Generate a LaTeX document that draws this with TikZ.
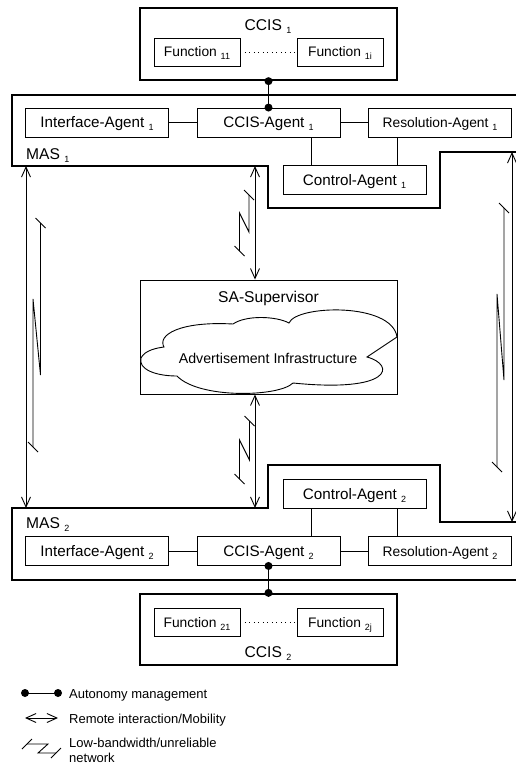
\documentclass[tikz,border=0pt]{standalone}
\usepackage{fontspec}
\setmainfont{Liberation Sans}
\usetikzlibrary{arrows.meta}

% lowered index after a name, e.g. CCIS 1
\newcommand\lowsub[1]{\ \raisebox{-3pt}{\fontsize{9}{9}\selectfont #1}}

% low-bandwidth symbol beside a vertical link:
% right stroke x=#1 from y=#2 to #3, back to left stroke x=#4 at y=#5, down to y=#6
\newcommand\lowbw[6]{%
  \draw[thinln] (#1,#2) -- (#1,#3) -- (#4,#5) -- (#4,#6);
  \draw[thinln] (#1-5,#2-5) -- (#1+5,#2+5);
  \draw[thinln] (#4-5,#6-5) -- (#4+5,#6+5);
}

\begin{document}
\begin{tikzpicture}[x=1pt,y=-1pt,
  thinln/.style={line width=0.9pt},
  heavy/.style={line width=2.3pt},
  agent/.style={draw, thinln, minimum width=143pt, minimum height=29pt,
    inner sep=0pt, text height=12pt, text depth=2pt,
    font=\fontsize{15.2}{18}\selectfont},
  resagent/.style={agent, font=\fontsize{13.8}{16}\selectfont},
  funcbox/.style={draw, thinln, minimum width=86pt, minimum height=28pt,
    inner sep=0pt, text height=11pt, text depth=2pt,
    font=\fontsize{13.8}{16}\selectfont},
  titletext/.style={font=\fontsize{15.6}{18}\selectfont, inner sep=0pt},
  legtext/.style={font=\fontsize{13}{15}\selectfont, inner sep=0pt, anchor=base west},
  twoway/.style={thinln, {Straight Barb[length=10pt,width=9pt]}-{Straight Barb[length=10pt,width=9pt]}},
  dotsep/.style={thinln, dash pattern=on 1pt off 3.5pt},
  knob/.style={fill=black},
]
\useasboundingbox (0,0) rectangle (516,766);
\clip (0,0) rectangle (516,766);

% ---------- CCIS 1 ----------
\node[draw, heavy, minimum width=257pt, minimum height=72pt] (ccis1) at (268.5,44) {};
\node[titletext, anchor=base] (ccis1t) at (268,30) {CCIS\lowsub{1}};
\node[funcbox] (f11) at (197,52) {Function\lowsub{11}};
\node[funcbox] (f1i) at (340,52) {Function\lowsub{1i}};
\draw[dotsep] (f11.east) -- (f1i.west);

% ---------- MAS 1 ----------
\draw[heavy] (12,95) -- (530,95) -- (530,152) -- (440,152) -- (440,208)
  -- (268,208) -- (268,166) -- (12,166) -- cycle;
\coordinate (m1a) at (26,166);
\coordinate (m1b) at (255,166);
\coordinate (m1c) at (512,152);
\node[titletext, anchor=base west] (mas1t) at (26,159) {MAS\lowsub{1}};
\node[agent] (ia1) at (97,122.5) {Interface-Agent\lowsub{1}};
\node[agent] (ca1) at (268.5,122.5) {CCIS-Agent\lowsub{1}};
\node[resagent] (ra1) at (440,122.5) {Resolution-Agent\lowsub{1}};
\node[agent] (ctl1) at (354.5,180) {Control-Agent\lowsub{1}};
\draw[thinln] (ia1.east) -- (ca1.west);
\draw[thinln] (ca1.east) -- (ra1.west);
\draw[thinln] ([xshift=29pt]ctl1.north west) -- ([xshift=29pt]ctl1.north west |- ca1.south);
\draw[thinln] ([xshift=-29pt]ctl1.north east) -- ([xshift=-29pt]ctl1.north east |- ra1.south);
\draw[thinln] (ccis1.south) -- (ca1.north);
\fill[knob] (ccis1.south) circle[radius=4pt];
\fill[knob] (ca1.north) circle[radius=4pt];

% ---------- SA-Supervisor ----------
\node[draw, thinln, minimum width=257pt, minimum height=114pt] (sa) at (268.5,337) {};
\draw[thinln, fill=white]
  (141,358) .. controls (145,350) and (157,348) .. (164,347)
  .. controls (157,335) and (180,321) .. (233,324)
  .. controls (246,315) and (276,316) .. (289,323)
  .. controls (296,305) and (392,302) .. (397,337)
  -- (367,357)
  .. controls (396,365) and (392,393) .. (293,383)
  .. controls (279,397) and (199,399) .. (177,376)
  .. controls (155,376) and (138,369) .. (141,358) -- cycle;
\node[titletext, anchor=base] (sat) at (268.5,302) {SA-Supervisor};
\node[font=\fontsize{14.2}{17}\selectfont, inner sep=0pt, anchor=base] (adv) at (268,363)
  {Advertisement Infrastructure};

% ---------- MAS 2 ----------
\draw[heavy] (12,508) -- (268,508) -- (268,465) -- (440,465) -- (440,522)
  -- (530,522) -- (530,580) -- (12,580) -- cycle;
\coordinate (m2a) at (26,508);
\coordinate (m2b) at (255,508);
\coordinate (m2c) at (512,522);
\node[titletext, anchor=base west] (mas2t) at (26,528) {MAS\lowsub{2}};
\node[agent] (ctl2) at (354.5,494) {Control-Agent\lowsub{2}};
\node[agent] (ia2) at (97,551) {Interface-Agent\lowsub{2}};
\node[agent] (ca2) at (268.5,551) {CCIS-Agent\lowsub{2}};
\node[resagent] (ra2) at (440,551) {Resolution-Agent\lowsub{2}};
\draw[thinln] (ia2.east) -- (ca2.west);
\draw[thinln] (ca2.east) -- (ra2.west);
\draw[thinln] ([xshift=29pt]ctl2.south west) -- ([xshift=29pt]ctl2.south west |- ca2.north);
\draw[thinln] ([xshift=-29pt]ctl2.south east) -- ([xshift=-29pt]ctl2.south east |- ra2.north);

% ---------- CCIS 2 ----------
\node[draw, heavy, minimum width=257pt, minimum height=71pt] (ccis2) at (268.5,629.5) {};
\node[funcbox] (f21) at (197,622.5) {Function\lowsub{21}};
\node[funcbox] (f2j) at (340,622.5) {Function\lowsub{2j}};
\draw[dotsep] (f21.east) -- (f2j.west);
\node[titletext, anchor=base] (ccis2t) at (268,657) {CCIS\lowsub{2}};
\draw[thinln] (ca2.south) -- (ccis2.north);
\fill[knob] (ca2.south) circle[radius=4pt];
\fill[knob] (ccis2.north) circle[radius=4pt];

% ---------- remote links ----------
\draw[twoway] (m1a) -- (m2a);
\draw[twoway] (m1b) -- (m1b |- sa.north);
\draw[twoway] (m2b |- sa.south) -- (m2b);
\draw[twoway] (m1c) -- (m2c);
\lowbw{40.5}{223}{375}{33}{299}{447}
\lowbw{249}{195}{232}{239.5}{213}{251}
\lowbw{249.5}{421}{460}{239.5}{440}{479}
\lowbw{504}{208}{380}{497}{294}{467}

% ---------- legend ----------
\coordinate (k1) at (25,693);
\coordinate (k2) at (58,693);
\draw[thinln] (k1) -- (k2);
\fill[knob] (k1) circle[radius=4pt];
\fill[knob] (k2) circle[radius=4pt];
\node[legtext] (l1) at (69,698) {Autonomy management};
\coordinate (r1) at (25,718);
\coordinate (r2) at (58,718);
\draw[twoway] (r1) -- (r2);
\node[legtext] (l2) at (69,723) {Remote interaction/Mobility};
\draw[thinln] (27,744) -- (48,744) -- (38,753) -- (56,753);
\draw[thinln] (22,749) -- (32,739);
\draw[thinln] (51,758) -- (61,748);
\node[legtext] (l3) at (69,747) {Low-bandwidth/unreliable};
\node[legtext] (l4) at (69,762) {network};
\end{tikzpicture}
\end{document}
